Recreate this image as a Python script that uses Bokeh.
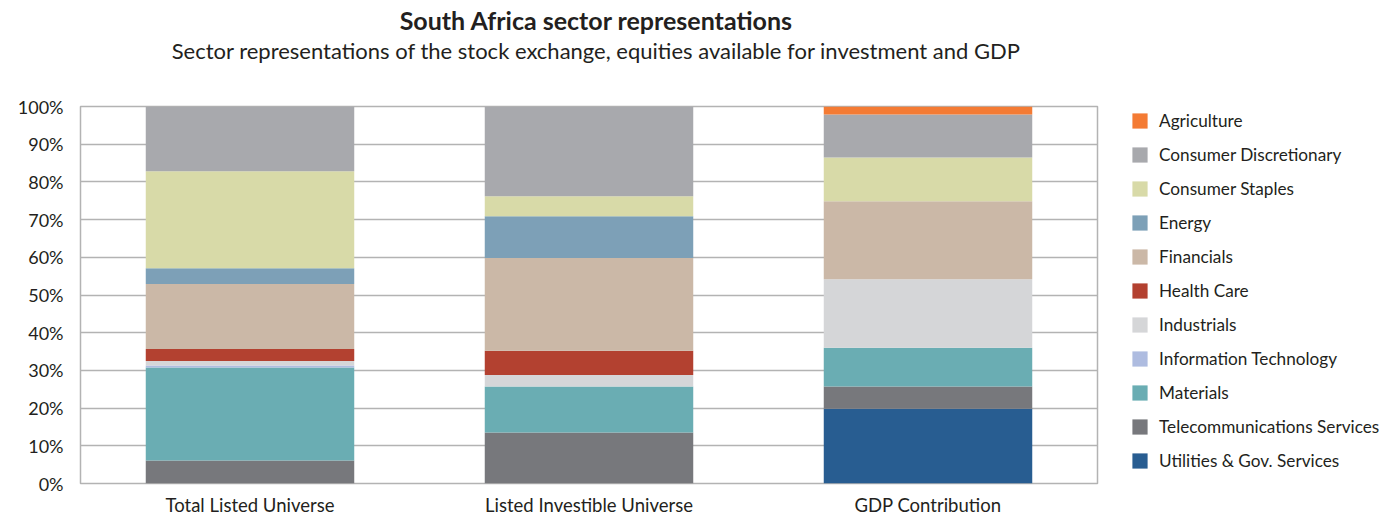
from bokeh.plotting import figure
from bokeh.layouts import column, row
from bokeh.models import (ColumnDataSource, Label, Legend, LegendItem,
                          FactorRange, Range1d, PrintfTickFormatter, FixedTicker)
from bokeh.embed import file_html
from bokeh.resources import INLINE

title_text = "South Africa sector representations"
subtitle_text = "Sector representations of the stock exchange, equities available for investment and GDP"

categories = ["Total Listed Universe", "Listed Investible Universe", "GDP Contribution"]

# stacking order, bottom to top
sectors = [
    "Utilities & Gov. Services",
    "Telecommunications Services",
    "Materials",
    "Information Technology",
    "Industrials",
    "Health Care",
    "Financials",
    "Energy",
    "Consumer Staples",
    "Consumer Discretionary",
    "Agriculture",
]

utilities = [0.0, 0.0, 19.8]
telecom = [6.1, 13.5, 5.9]
materials = [24.7, 12.2, 10.3]
info_tech = [0.5, 0.0, 0.0]
industrials = [1.2, 3.1, 18.2]
health_care = [3.2, 6.4, 0.0]
financials = [17.2, 24.6, 20.7]
energy = [4.2, 11.1, 0.0]
consumer_staples = [25.7, 5.3, 11.6]
consumer_disc = [17.2, 23.8, 11.4]
agriculture = [0.0, 0.0, 2.1]

colors = [
    "#285d91", "#77787c", "#6aadb3", "#aebce0", "#d5d6d8", "#b34130",
    "#cbb8a7", "#7da0b7", "#d8daa8", "#a8a9ad", "#f47b34",
]

y_ticks = [0, 10, 20, 30, 40, 50, 60, 70, 80, 90, 100]

data = dict(cat=categories)
for name, vals in zip(sectors, [utilities, telecom, materials, info_tech, industrials,
                                 health_care, financials, energy, consumer_staples,
                                 consumer_disc, agriculture]):
    data[name] = vals
source = ColumnDataSource(data)

FONT = "Lato"
TXT = "#231f20"
GRID = "#b3b3b3"

# ---------- title strip ----------
tf = figure(width=1390, height=70, x_range=Range1d(0, 1390), y_range=Range1d(0, 70),
            output_backend="svg", toolbar_location=None,
            x_axis_location=None, y_axis_location=None, min_border=0)
tf.outline_line_color = None
tf.grid.grid_line_color = None
tf.add_layout(Label(x=596, y=51, text=title_text, text_font=FONT, text_font_style="bold",
                    text_font_size="25px", text_color=TXT, text_align="center",
                    text_baseline="middle"))
tf.add_layout(Label(x=596, y=20, text=subtitle_text, text_font=FONT,
                    text_font_size="22px", text_color=TXT, text_align="center",
                    text_baseline="middle"))

# ---------- main chart ----------
p = figure(x_range=FactorRange(*categories), y_range=Range1d(0, 100),
           width=1099, height=448, output_backend="svg", toolbar_location=None,
           min_border_left=80, min_border_right=2, min_border_top=36, min_border_bottom=34)

renderers = p.vbar_stack(sectors, x="cat", width=0.615, color=colors, source=source,
                         line_color=None)

p.outline_line_color = GRID
p.outline_line_width = 1.5
p.xgrid.grid_line_color = None
p.ygrid.grid_line_color = GRID
p.ygrid.grid_line_width = 1.5
p.ygrid.ticker = FixedTicker(ticks=y_ticks)
p.yaxis.ticker = FixedTicker(ticks=y_ticks)
p.yaxis.formatter = PrintfTickFormatter(format="%d%%")

for ax in (p.xaxis, p.yaxis):
    ax.axis_line_color = None
    ax.major_tick_line_color = None
    ax.minor_tick_line_color = None
    ax.major_tick_out = 0
    ax.major_tick_in = 0
    ax.major_label_text_font = FONT
    ax.major_label_text_color = TXT
p.xaxis.major_label_text_font_size = "18.5px"
p.yaxis.major_label_text_font_size = "18px"
p.yaxis.major_label_standoff = 17
p.xaxis.major_label_standoff = 10

# ---------- legend panel (same data, zero-width bars: only the swatches show) ----------
lf = figure(width=291, height=448, x_range=FactorRange(*categories), y_range=Range1d(1000, 1100),
            output_backend="svg", toolbar_location=None,
            x_axis_location=None, y_axis_location=None, min_border=0)
lf.outline_line_color = None
lf.grid.grid_line_color = None
swatches = lf.vbar_stack(sectors, x="cat", width=0, color=colors, source=source,
                         line_color=None)
items = [LegendItem(label=name, renderers=[r]) for name, r in zip(sectors, swatches)][::-1]
legend = Legend(items=items, location=(31, 12), orientation="vertical",
                glyph_width=19, glyph_height=19, label_height=21, label_standoff=10,
                spacing=13, padding=0, margin=0, border_line_color=None,
                background_fill_alpha=0, label_text_font=FONT,
                label_text_font_size="17.2px", label_text_color=TXT)
lf.add_layout(legend, "center")

layout = column(tf, row(p, lf))
open("out.html", "w").write(file_html(layout, INLINE))
